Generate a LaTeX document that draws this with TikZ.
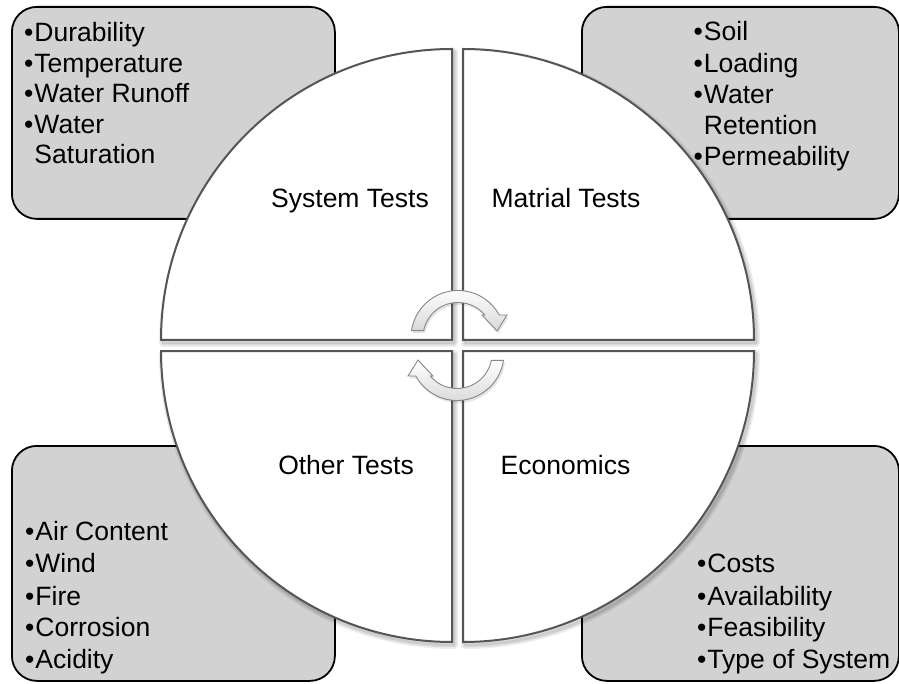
\documentclass[tikz,border=0pt]{standalone}
\usepackage{fontspec}
\setmainfont{Liberation Sans}
\definecolor{boxgray}{RGB}{210,210,210}
\definecolor{quadline}{RGB}{85,85,85}
\definecolor{arrowline}{RGB}{135,135,135}
\newcommand{\bul}{•\hspace{1pt}}
\newcommand{\nobul}{\phantom{•}\hspace{1pt}}
\begin{document}
\begin{tikzpicture}[x=1pt,y=-1pt,
  box/.style={draw=black, line width=1.8pt, fill=boxgray, rounded corners=25pt,
    inner sep=0pt, anchor=north west},
  quad/.style={draw=quadline, line width=2pt, fill=white, line join=miter},
  qshadow/.style={draw=black, line width=#1, opacity=0.07, line join=round},
  turn/.style={draw=arrowline, line width=0.9pt, top color=white, bottom color=gray!30},
  tshadow/.style={fill=black, opacity=0.10, draw=none},
  item/.style={anchor=base west, inner sep=0pt, font=\fontsize{26.5}{31}\selectfont},
  title/.style={anchor=base, inner sep=0pt, font=\fontsize{26.5}{31}\selectfont}
]
\useasboundingbox (0,0) rectangle (899,684);

% corner boxes holding the bullet lists
\node[box, minimum width=323, minimum height=212] (boxTL) at (11,6) {};
\node[box, minimum width=317, minimum height=212] (boxTR) at (581,6) {};
\node[box, minimum width=323, minimum height=235] (boxBL) at (11,445) {};
\node[box, minimum width=317, minimum height=235] (boxBR) at (581,445) {};

% soft shadows under the four quarter discs
\foreach \w in {8,5,2.5}{
  \begin{scope}[shift={(2,3)}]
    \draw[qshadow=\w pt] (452,340) -- (452,49) arc[start angle=270, end angle=180, radius=291] -- cycle;
    \draw[qshadow=\w pt] (463,340) -- (463,49) arc[start angle=270, end angle=360, radius=291] -- cycle;
    \draw[qshadow=\w pt] (452,351) -- (161,351) arc[start angle=180, end angle=90, radius=291] -- cycle;
    \draw[qshadow=\w pt] (463,351) -- (754,351) arc[start angle=0, end angle=90, radius=291] -- cycle;
  \end{scope}
}

% quarter discs
\draw[quad] (452,340) -- (452,49) arc[start angle=270, end angle=180, radius=291] -- cycle;
\draw[quad] (463,340) -- (463,49) arc[start angle=270, end angle=360, radius=291] -- cycle;
\draw[quad] (452,351) -- (161,351) arc[start angle=180, end angle=90, radius=291] -- cycle;
\draw[quad] (463,351) -- (754,351) arc[start angle=0, end angle=90, radius=291] -- cycle;

% clockwise turning arrows in the middle
\begin{scope}[shift={(1.5,2.5)}]
  \fill[tshadow] (411.5,330.7) arc[start angle=188.3, end angle=331.4, radius=47]
    -- (507,315) -- (497,331) -- (482,315) -- (484.8,315)
    arc[start angle=320, end angle=191.2, radius=35] -- cycle;
  \fill[tshadow] (503.5,360.3) arc[start angle=8.3, end angle=151.4, radius=47]
    -- (408,376) -- (418,360) -- (433,376) -- (430.2,376)
    arc[start angle=140, end angle=11.2, radius=35] -- cycle;
\end{scope}
\draw[turn] (411.5,330.7) arc[start angle=188.3, end angle=331.4, radius=47]
  -- (507,315) -- (497,331) -- (482,315) -- (484.8,315)
  arc[start angle=320, end angle=191.2, radius=35] -- cycle;
\draw[turn] (503.5,360.3) arc[start angle=8.3, end angle=151.4, radius=47]
  -- (408,376) -- (418,360) -- (433,376) -- (430.2,376)
  arc[start angle=140, end angle=11.2, radius=35] -- cycle;

% quadrant titles
\node[title] (tSys) at (350,207.3) {System Tests};
\node[title] (tMat) at (566,207.3) {Matrial Tests};
\node[title] (tOth) at (346,474.5) {Other Tests};
\node[title] (tEco) at (565.5,474.5) {Economics};

% bullet lists
\node[item] (a1) at (24,42)    {\bul Durability};
\node[item] (a2) at (24,72.5)  {\bul Temperature};
\node[item] (a3) at (24,103)   {\bul Water Runoff};
\node[item] (a4) at (24,133.5) {\bul Water};
\node[item] (a5) at (24,164)   {\nobul Saturation};

\node[item] (b1) at (693.5,41)    {\bul Soil};
\node[item] (b2) at (693.5,72.5)  {\bul Loading};
\node[item] (b3) at (693.5,104)   {\bul Water};
\node[item] (b4) at (693.5,135)   {\nobul Retention};
\node[item] (b5) at (693.5,166)   {\bul Permeability};

\node[item] (c1) at (25,540.7) {\bul Air Content};
\node[item] (c2) at (25,572.7) {\bul Wind};
\node[item] (c3) at (25,605)   {\bul Fire};
\node[item] (c4) at (25,636.7) {\bul Corrosion};
\node[item] (c5) at (25,668.3) {\bul Acidity};

\node[item] (d1) at (697,572.7) {\bul Costs};
\node[item] (d2) at (697,605.7) {\bul Availability};
\node[item] (d3) at (697,636.7) {\bul Feasibility};
\node[item] (d4) at (697,668.3) {\bul Type of System};
\end{tikzpicture}
\end{document}
